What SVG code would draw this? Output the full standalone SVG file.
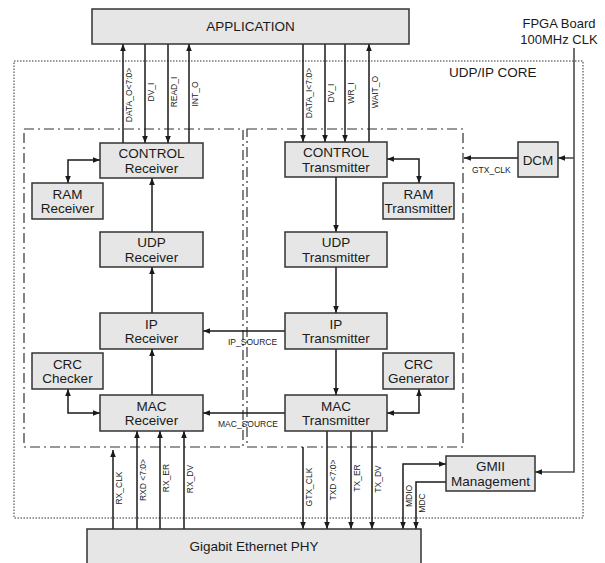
<svg xmlns="http://www.w3.org/2000/svg" width="605" height="563" viewBox="0 0 605 563">
<style>
.node rect{fill:#e6e6e6;stroke:#333;stroke-width:1.5}
.node text{font-family:"Liberation Sans",Arial,sans-serif;font-size:13.5px;fill:#1a1a1a;text-anchor:middle}
.c{fill:none;stroke:#1a1a1a;stroke-width:1.5}
.sm{font-family:"Liberation Sans",Arial,sans-serif;font-size:8.5px;fill:#1a1a1a}
.vl{font-family:"Liberation Sans",Arial,sans-serif;font-size:8.5px;fill:#1a1a1a;text-anchor:middle}
.dd{fill:none;stroke:#333;stroke-width:1.2;stroke-dasharray:10,4,2,4}
</style>
<defs>
<marker id="ah" viewBox="0 0 10 10" refX="10" refY="5" markerWidth="7" markerHeight="7" orient="auto-start-reverse" markerUnits="userSpaceOnUse"><path d="M0,1 L10,5 L0,9 z" fill="#1a1a1a"/></marker>
</defs>
<rect width="605" height="563" fill="#fff"/>
<!-- containers -->
<rect x="14" y="61" width="569" height="457" fill="none" stroke="#333" stroke-width="1" stroke-dasharray="1.5,1.5"/>
<text x="449" y="77" style="font-family:'Liberation Sans',Arial,sans-serif;font-size:13.5px;fill:#1a1a1a">UDP/IP CORE</text>
<rect class="dd" x="24" y="129" width="219" height="318"/>
<rect class="dd" x="247" y="129" width="216" height="318"/>
<text x="559" y="28" text-anchor="middle" style="font-family:'Liberation Sans',Arial,sans-serif;font-size:13px;fill:#1a1a1a">FPGA Board</text>
<text x="559" y="44" text-anchor="middle" style="font-family:'Liberation Sans',Arial,sans-serif;font-size:13px;fill:#1a1a1a">100MHz CLK</text>
<!-- connectors -->
<g id="connectors">
<line class="c" x1="123" y1="143" x2="123" y2="44" marker-end="url(#ah)"/>
<line class="c" x1="145" y1="44" x2="145" y2="143" marker-end="url(#ah)"/>
<line class="c" x1="168" y1="44" x2="168" y2="143" marker-end="url(#ah)"/>
<line class="c" x1="189" y1="143" x2="189" y2="44" marker-end="url(#ah)"/>
<line class="c" x1="303" y1="44" x2="303" y2="142" marker-end="url(#ah)"/>
<line class="c" x1="325" y1="44" x2="325" y2="142" marker-end="url(#ah)"/>
<line class="c" x1="345" y1="44" x2="345" y2="142" marker-end="url(#ah)"/>
<line class="c" x1="369" y1="142" x2="369" y2="44" marker-end="url(#ah)"/>
<text class="vl" transform="translate(132,95) rotate(-90)">DATA_O&lt;7:0&gt;</text>
<text class="vl" transform="translate(154,92) rotate(-90)">DV_I</text>
<text class="vl" transform="translate(177,92) rotate(-90)">READ_I</text>
<text class="vl" transform="translate(198,94) rotate(-90)">INT_O</text>
<text class="vl" transform="translate(312,93) rotate(-90)">DATA_I&lt;7:0&gt;</text>
<text class="vl" transform="translate(334,93) rotate(-90)">DV_I</text>
<text class="vl" transform="translate(354,93) rotate(-90)">WR_I</text>
<text class="vl" transform="translate(378,92) rotate(-90)">WAIT_O</text>
<!-- receiver chain -->
<path class="c" d="M68,183 V160 H100" marker-start="url(#ah)" marker-end="url(#ah)"/>
<line class="c" x1="152" y1="232" x2="152" y2="178" marker-end="url(#ah)"/>
<line class="c" x1="152" y1="313" x2="152" y2="267" marker-end="url(#ah)"/>
<line class="c" x1="152" y1="395" x2="152" y2="349" marker-end="url(#ah)"/>
<path class="c" d="M68,389 V413 H100" marker-start="url(#ah)" marker-end="url(#ah)"/>
<!-- transmitter chain -->
<line class="c" x1="336" y1="177" x2="336" y2="232" marker-end="url(#ah)"/>
<path class="c" d="M387,159 H419 V183" marker-start="url(#ah)" marker-end="url(#ah)"/>
<line class="c" x1="336" y1="267" x2="336" y2="313" marker-end="url(#ah)"/>
<line class="c" x1="336" y1="349" x2="336" y2="395" marker-end="url(#ah)"/>
<path class="c" d="M387,413 H419 V389" marker-start="url(#ah)" marker-end="url(#ah)"/>
<line class="c" x1="285" y1="331" x2="203" y2="331" marker-end="url(#ah)"/>
<text class="sm" x="228" y="345">IP_SOURCE</text>
<line class="c" x1="285" y1="413" x2="203" y2="413" marker-end="url(#ah)"/>
<text class="sm" x="218" y="427">MAC_SOURCE</text>
<!-- clocks -->
<line class="c" x1="518" y1="158" x2="464" y2="158" marker-end="url(#ah)"/>
<text class="sm" x="472" y="173">GTX_CLK</text>
<path d="M574,48 V472 H535" fill="none" stroke="#4d4d4d" stroke-width="1.6" marker-end="url(#ah)"/>
<line x1="574" y1="158" x2="558" y2="158" stroke="#4d4d4d" stroke-width="1.6" marker-end="url(#ah)"/>
<!-- PHY links -->
<line class="c" x1="113" y1="529" x2="113" y2="450" marker-end="url(#ah)"/>
<line class="c" x1="137" y1="529" x2="137" y2="431" marker-end="url(#ah)"/>
<line class="c" x1="160" y1="529" x2="160" y2="431" marker-end="url(#ah)"/>
<line class="c" x1="184" y1="529" x2="184" y2="431" marker-end="url(#ah)"/>
<line class="c" x1="303" y1="447" x2="303" y2="529" marker-end="url(#ah)"/>
<line class="c" x1="327" y1="431" x2="327" y2="529" marker-end="url(#ah)"/>
<line class="c" x1="351" y1="431" x2="351" y2="529" marker-end="url(#ah)"/>
<line class="c" x1="372" y1="431" x2="372" y2="529" marker-end="url(#ah)"/>
<path class="c" d="M446,464 H403 V529" marker-start="url(#ah)" marker-end="url(#ah)"/>
<path class="c" d="M446,482 H416 V529" marker-end="url(#ah)"/>
<text class="vl" transform="translate(122,488) rotate(-90)">RX_CLK</text>
<text class="vl" transform="translate(146,480) rotate(-90)">RXD &lt;7:0&gt;</text>
<text class="vl" transform="translate(169,478) rotate(-90)">RX_ER</text>
<text class="vl" transform="translate(193,479) rotate(-90)">RX_DV</text>
<text class="vl" transform="translate(312,487) rotate(-90)">GTX_CLK</text>
<text class="vl" transform="translate(336,480) rotate(-90)">TXD &lt;7:0&gt;</text>
<text class="vl" transform="translate(360,478) rotate(-90)">TX_ER</text>
<text class="vl" transform="translate(381,479) rotate(-90)">TX_DV</text>
<text class="vl" transform="translate(412,496) rotate(-90)">MDIO</text>
<text class="vl" transform="translate(425,503) rotate(-90)">MDC</text>
</g>
<!-- nodes -->
<g id="application" class="node"><rect x="92" y="9" width="317" height="35"/><text x="250.5" y="31">APPLICATION</text></g>
<g id="control-receiver" class="node"><rect x="100" y="143" width="103" height="35"/><text x="151.5" y="158">CONTROL</text><text x="151.5" y="172.5">Receiver</text></g>
<g id="ram-receiver" class="node"><rect x="32" y="183" width="71" height="36"/><text x="67.5" y="198.5">RAM</text><text x="67.5" y="213">Receiver</text></g>
<g id="udp-receiver" class="node"><rect x="100" y="232" width="103" height="35"/><text x="151.5" y="247">UDP</text><text x="151.5" y="261.5">Receiver</text></g>
<g id="ip-receiver" class="node"><rect x="100" y="313" width="103" height="36"/><text x="151.5" y="328.5">IP</text><text x="151.5" y="343">Receiver</text></g>
<g id="crc-checker" class="node"><rect x="32" y="353" width="71" height="36"/><text x="67.5" y="368.5">CRC</text><text x="67.5" y="383">Checker</text></g>
<g id="mac-receiver" class="node"><rect x="100" y="395" width="103" height="36"/><text x="151.5" y="410.5">MAC</text><text x="151.5" y="425">Receiver</text></g>
<g id="control-transmitter" class="node"><rect x="285" y="142" width="102" height="35"/><text x="336" y="157">CONTROL</text><text x="336" y="171.5">Transmitter</text></g>
<g id="ram-transmitter" class="node"><rect x="383" y="183" width="71" height="36"/><text x="418.5" y="198.5">RAM</text><text x="418.5" y="213">Transmitter</text></g>
<g id="udp-transmitter" class="node"><rect x="285" y="232" width="102" height="35"/><text x="336" y="247">UDP</text><text x="336" y="261.5">Transmitter</text></g>
<g id="ip-transmitter" class="node"><rect x="285" y="313" width="102" height="36"/><text x="336" y="328.5">IP</text><text x="336" y="343">Transmitter</text></g>
<g id="crc-generator" class="node"><rect x="383" y="353" width="71" height="36"/><text x="418.5" y="368.5">CRC</text><text x="418.5" y="383">Generator</text></g>
<g id="mac-transmitter" class="node"><rect x="285" y="395" width="102" height="36"/><text x="336" y="410.5">MAC</text><text x="336" y="425">Transmitter</text></g>
<g id="dcm" class="node"><rect x="518" y="142" width="40" height="35"/><text x="538" y="164.5">DCM</text></g>
<g id="gmii-management" class="node"><rect x="446" y="456" width="89" height="35"/><text x="490.5" y="471">GMII</text><text x="490.5" y="485.5">Management</text></g>
<g id="phy" class="node"><rect x="87" y="529" width="334" height="40"/><text x="254" y="551">Gigabit Ethernet PHY</text></g>
</svg>
